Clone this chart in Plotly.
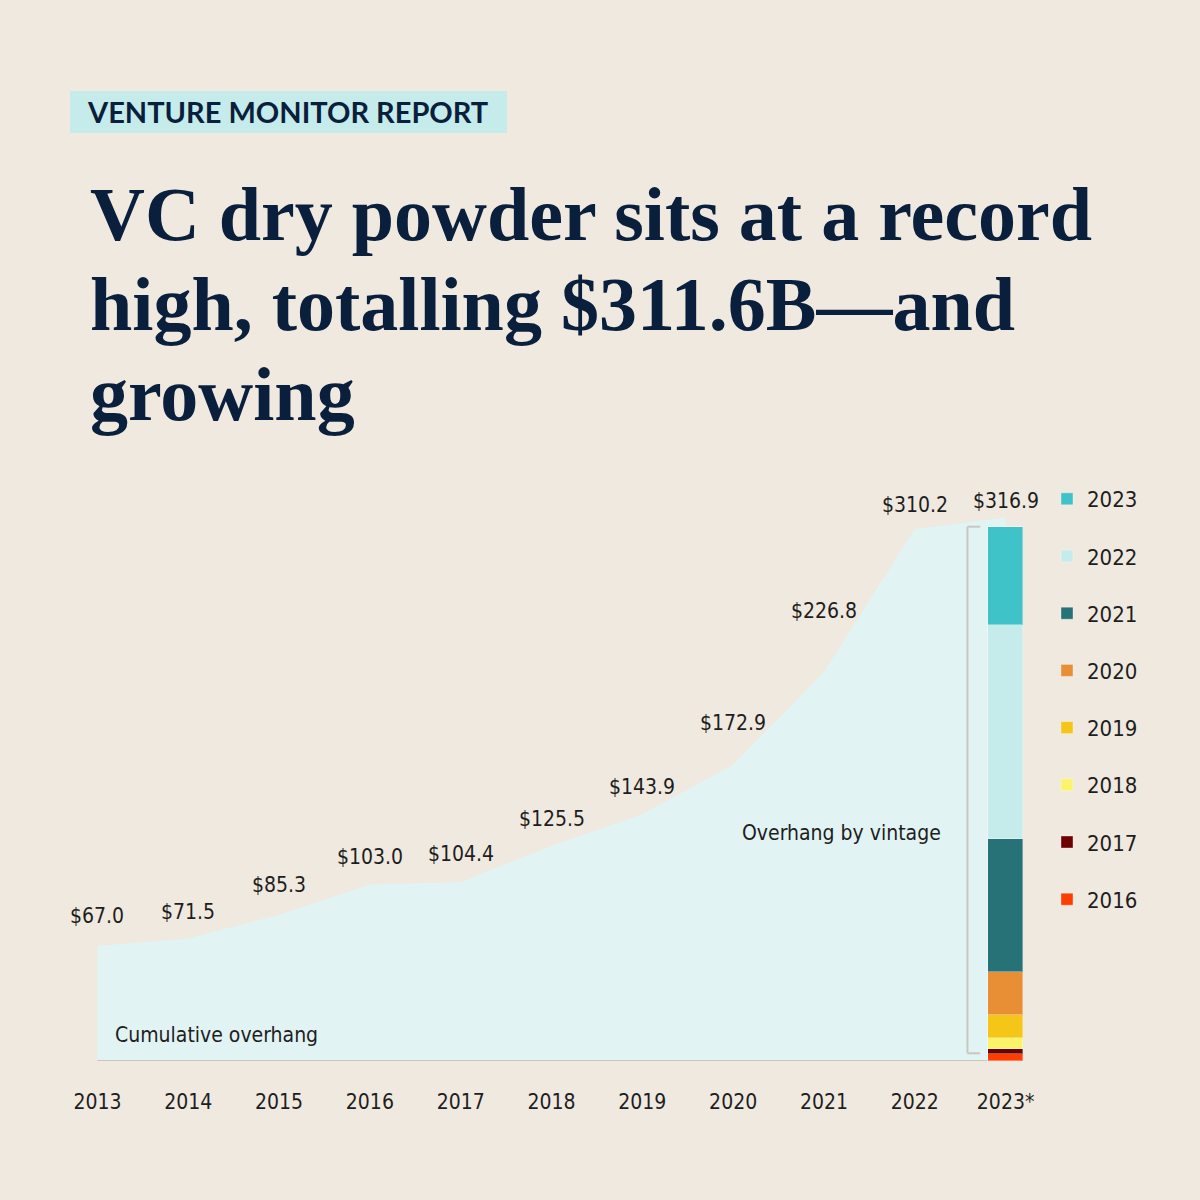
import plotly.graph_objects as go

# Cumulative VC overhang ($B) by year
years = [2013, 2014, 2015, 2016, 2017, 2018, 2019, 2020, 2021, 2022, 2023]
year_labels = ["2013", "2014", "2015", "2016", "2017", "2018", "2019",
               "2020", "2021", "2022", "2023*"]
overhang = [67.0, 71.5, 85.3, 103.0, 104.4, 125.5, 143.9, 172.9, 226.8, 310.2, 316.9]

# 2023 overhang split by vintage ($B), bottom to top
vintages = ["2016", "2017", "2018", "2019", "2020", "2021", "2022", "2023"]
vintage_values = [3.9, 2.9, 6.5, 13.5, 25.1, 77.4, 125.0, 57.3]
vintage_colors = ["#ff3d00", "#6e0000", "#fbf46a", "#f5c518",
                  "#e88f35", "#267277", "#c5ecea", "#40c3c8"]

title_lines = ["VC dry powder sits at a record",
               "high, totalling $311.6B—and",
               "growing"]

# extra lift (px) for the value labels above the area
label_lift = [30, 26, 30, 27, 28, 27, 27, 42, 61, 24, 17]

BG = "#f0e9df"
NAVY = "#0a1f3c"
INK = "#1e1e1e"
GREY = "#c9c8bf"
SANS = "DejaVu Sans Condensed, DejaVu Sans, sans-serif"

# plot area in pixels (for placing the header bits in paper coords)
L, R, T, B = 52, 149, 478, 139
PW, PH = 1200 - L - R, 1200 - T - B


def px_x(x):
    return (x - L) / PW


def px_y(y):
    return (1200 - B - y) / PH


fig = go.Figure()

# Cumulative area
fig.add_trace(go.Scatter(
    x=years, y=overhang, mode="lines", fill="tozeroy",
    fillcolor="#e1f3f3", line=dict(width=0, color="#e1f3f3"),
    showlegend=False, hoverinfo="skip"))

# baseline under the area
fig.add_trace(go.Scatter(
    x=[years[0], years[-1]], y=[0, 0], mode="lines",
    line=dict(color=GREY, width=2), showlegend=False, hoverinfo="skip"))

# Stacked 2023 bar by vintage (on an overlaid x axis so it sits above the area)
n = len(vintages)
for i, (name, val, col) in enumerate(zip(vintages, vintage_values, vintage_colors)):
    fig.add_trace(go.Bar(
        x=[years[-1]], y=[val], name=name, width=0.39, xaxis="x2",
        marker=dict(color=col, line=dict(color="rgba(255,255,255,0.35)", width=1)),
        legendgroup=name, legendrank=n - i, hoverinfo="skip"))

total = sum(vintage_values)

# bracket next to the bar
bx = years[-1] - 0.42
fig.add_shape(type="line", x0=bx, x1=bx, y0=4.5, y1=total,
              line=dict(color=GREY, width=2))
fig.add_shape(type="line", x0=bx, x1=bx + 0.14, y0=total, y1=total,
              line=dict(color=GREY, width=2))
fig.add_shape(type="line", x0=bx, x1=bx + 0.14, y0=4.5, y1=4.5,
              line=dict(color=GREY, width=2))

# Value labels
for yr, val, lift in zip(years, overhang, label_lift):
    fig.add_annotation(x=yr, y=val, text=f"${val:.1f}", showarrow=False,
                       yshift=lift, font=dict(family=SANS, size=21, color=INK))

fig.add_annotation(x=2013.17, y=15, text="Cumulative overhang", showarrow=False,
                   xanchor="left", font=dict(family=SANS, size=21, color=INK))
fig.add_annotation(x=2022.31, y=132.8, text="Overhang by vintage", showarrow=False,
                   xanchor="right", font=dict(family=SANS, size=21, color=INK))

# Header tag
fig.add_shape(type="rect", xref="paper", yref="paper",
              x0=px_x(70), x1=px_x(507), y0=px_y(133), y1=px_y(91),
              fillcolor="#c5ecea", line=dict(width=0), layer="below")
fig.add_annotation(xref="paper", yref="paper", x=px_x(85), y=px_y(112),
                   xanchor="left", yanchor="middle", showarrow=False,
                   text="<b>VENTURE MONITOR REPORT</b>",
                   font=dict(family="Lato, sans-serif", size=29, color=NAVY, weight=900))

# Title, one annotation per line
for k, line in enumerate(title_lines):
    fig.add_annotation(xref="paper", yref="paper", x=px_x(88), y=px_y(214 + 90 * k),
                       xanchor="left", yanchor="middle", showarrow=False,
                       text=f"<b>{line}</b>",
                       font=dict(family="Liberation Serif, serif", size=76, color=NAVY))

fig.update_layout(
    width=1200, height=1200,
    paper_bgcolor=BG, plot_bgcolor=BG,
    margin=dict(l=L, r=R, t=T, b=B, autoexpand=False),
    barmode="stack", bargap=0,
    showlegend=True,
    legend=dict(
        traceorder="grouped", tracegroupgap=25.6,
        xref="container", x=1047 / 1200, xanchor="left",
        yref="container", y=1 - 478 / 1200, yanchor="top",
        bgcolor="rgba(0,0,0,0)",
        font=dict(family=SANS, size=22, color=INK)),
    font=dict(family=SANS, color=INK),
    xaxis2=dict(overlaying="x", matches="x", visible=False),
)

fig.update_xaxes(range=[2012.5, 2023.5], tickvals=years, ticktext=year_labels,
                 showgrid=False, zeroline=False, showline=False,
                 ticklabelstandoff=26, tickfont=dict(family=SANS, size=21, color=INK),
                 selector=dict(overlaying=None))
fig.update_yaxes(range=[0, 340], visible=False, showgrid=False, zeroline=False)

fig.write_html("out.html", config={"displayModeBar": False},
               post_script="document.body.style.margin='0';")
